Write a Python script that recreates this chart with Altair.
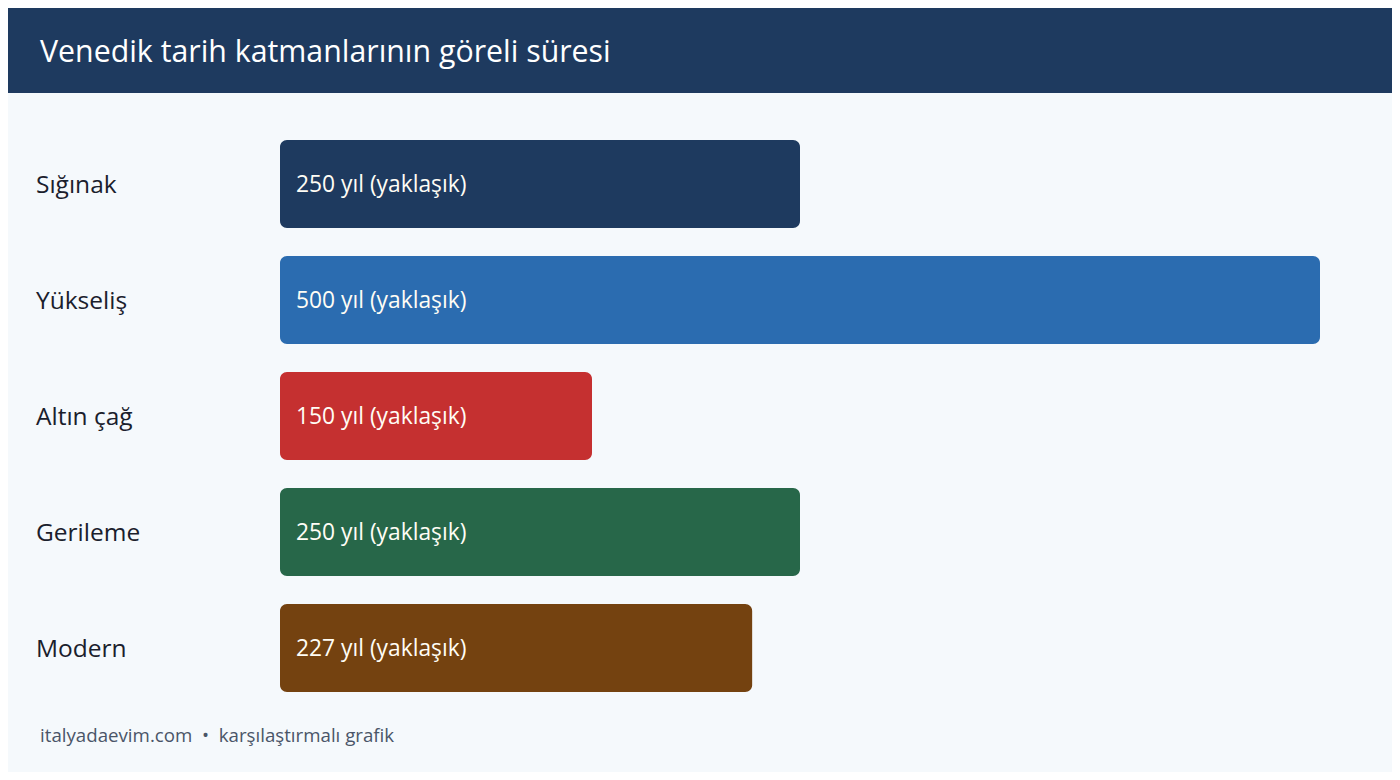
import altair as alt
import pandas as pd

categories = ["Sığınak", "Yükseliş", "Altın çağ", "Gerileme", "Modern"]
years = [250, 500, 150, 250, 227]
labels = ["250 yıl (yaklaşık)", "500 yıl (yaklaşık)", "150 yıl (yaklaşık)",
          "250 yıl (yaklaşık)", "227 yıl (yaklaşık)"]
colors = ["#1e3a5f", "#2b6cb0", "#c53030", "#276749", "#744210"]
title_text = "Venedik tarih katmanlarının göreli süresi"
footer_text = "italyadaevim.com\u00a0\u00a0•\u00a0\u00a0karşılaştırmalı grafik"

FONT = "Open Sans"
W, H = 1384, 764

df = pd.DataFrame({"cat": categories, "years": years, "label": labels,
                   "start": [0] * len(categories)})

xs = alt.Scale(domain=[0, 500], range=[272, 1312], nice=False, zero=True)
ys = alt.Scale(domain=categories, range=[132, 684], paddingInner=0.2414, paddingOuter=0)

base = alt.Chart(df)

header = alt.Chart(pd.DataFrame({"t": [title_text]})).mark_rect(color="#1e3a5f").encode(
    x=alt.value(-10), x2=alt.value(W + 10), y=alt.value(-10), y2=alt.value(85)
)
title = alt.Chart(pd.DataFrame({"t": [title_text]})).mark_text(
    font=FONT, fontSize=30.3, color="#ffffff", align="left", baseline="middle"
).encode(x=alt.value(32), y=alt.value(45), text="t:N")

bars = base.mark_bar(cornerRadius=7).encode(
    x=alt.X("start:Q", scale=xs, axis=None),
    x2="years:Q",
    y=alt.Y("cat:N", scale=ys, axis=None, sort=categories),
    color=alt.Color("cat:N", scale=alt.Scale(domain=categories, range=colors), legend=None),
)

bar_text = base.mark_text(
    font=FONT, fontSize=22.8, color="#fffdf5", align="left", baseline="middle", dx=16, dy=1
).encode(
    x=alt.X("start:Q", scale=xs),
    y=alt.Y("cat:N", scale=ys, sort=categories),
    text="label:N",
)

cat_text = base.mark_text(
    font=FONT, fontSize=24.5, color="#1a202c", align="left", baseline="middle", dy=2
).encode(
    x=alt.value(28),
    y=alt.Y("cat:N", scale=ys, sort=categories),
    text="cat:N",
)

footer = alt.Chart(pd.DataFrame({"t": [footer_text]})).mark_text(
    font=FONT, fontSize=18.7, color="#4a5568", align="left", baseline="middle"
).encode(x=alt.value(32), y=alt.value(728), text="t:N")

chart = alt.layer(header, title, bars, bar_text, cat_text, footer).properties(
    width=W, height=H, background="#f5f9fc", padding=0,
    autosize=alt.AutoSizeParams(type="none"),
).configure_view(stroke=None, clip=False)

chart.save("out.html", embed_options={"renderer": "svg", "actions": False})
